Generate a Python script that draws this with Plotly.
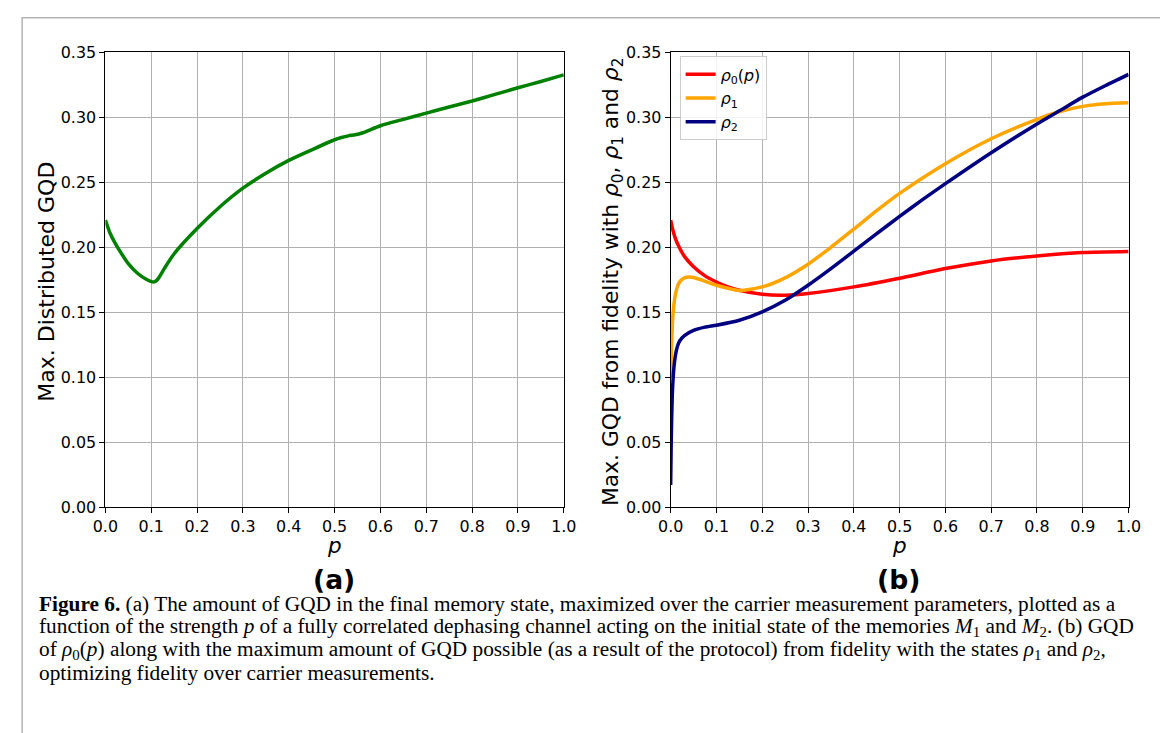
import plotly.graph_objects as go

# ---------------- data ----------------
p_a = [0, 0.01, 0.02, 0.03, 0.05, 0.07, 0.09, 0.105, 0.112, 0.12, 0.13, 0.15, 0.2, 0.25,
       0.3, 0.35, 0.4, 0.45, 0.5, 0.515, 0.53, 0.545, 0.56, 0.6, 0.65, 0.7, 0.75, 0.8,
       0.85, 0.9, 0.95, 1.0]
gqd_a = [0.221, 0.211, 0.204, 0.198, 0.1874, 0.1800, 0.1752, 0.1733, 0.1745, 0.1785, 0.1844,
         0.1950, 0.2144, 0.2312, 0.2455, 0.2570, 0.2669, 0.2750, 0.2828, 0.2845, 0.2858,
         0.2866, 0.2880, 0.2936, 0.2985, 0.3033, 0.3080, 0.3126, 0.3177, 0.3228, 0.3276, 0.3328]

p_r0 = [0, 0.005, 0.01, 0.02, 0.03, 0.05, 0.075, 0.1, 0.125, 0.15, 0.2, 0.25, 0.3, 0.4,
        0.5, 0.6, 0.7, 0.8, 0.9, 1.0]
rho0 = [0.221, 0.213, 0.207, 0.199, 0.193, 0.185, 0.178, 0.1733, 0.1695, 0.1669, 0.1638,
        0.1631, 0.1644, 0.1695, 0.1762, 0.1836, 0.1895, 0.1933, 0.1959, 0.1967]

p_r1 = [0, 0.002, 0.005, 0.01, 0.015, 0.02, 0.03, 0.04, 0.05, 0.07, 0.1, 0.15, 0.2, 0.25,
        0.3, 0.35, 0.4, 0.45, 0.5, 0.6, 0.7, 0.8, 0.85, 0.9, 0.95, 1.0]
rho1 = [0.100, 0.125, 0.148, 0.163, 0.170, 0.1735, 0.1765, 0.1772, 0.1768, 0.1745, 0.1708,
        0.1668, 0.1695, 0.1765, 0.1870, 0.2000, 0.2140, 0.2282, 0.2415, 0.2644, 0.2836,
        0.2985, 0.3045, 0.3085, 0.3105, 0.3113]

p_r2 = [0, 0.001, 0.002, 0.004, 0.007, 0.01, 0.015, 0.02, 0.03, 0.05, 0.075, 0.1, 0.15,
        0.2, 0.25, 0.3, 0.35, 0.4, 0.45, 0.5, 0.55, 0.6, 0.7, 0.8, 0.85, 0.9, 0.95, 1.0]
rho2 = [0.017, 0.045, 0.065, 0.090, 0.107, 0.116, 0.124, 0.128, 0.132, 0.136, 0.1385,
        0.140, 0.1438, 0.1503, 0.1592, 0.1708, 0.1836, 0.1970, 0.2105, 0.2238, 0.2367,
        0.2490, 0.2728, 0.2950, 0.3053, 0.3156, 0.3246, 0.3331]

x_ticks = [0.0, 0.1, 0.2, 0.3, 0.4, 0.5, 0.6, 0.7, 0.8, 0.9, 1.0]
y_ticks = [0.00, 0.05, 0.10, 0.15, 0.20, 0.25, 0.30, 0.35]

caption_lines = [
    "<b>Figure 6.</b> (a) The amount of GQD in the final memory state, maximized over the carrier measurement parameters, plotted as a",
    "function of the strength <i>p</i> of a fully correlated dephasing channel acting on the initial state of the memories <i>M</i><sub>1</sub> and <i>M</i><sub>2</sub>. (b) GQD",
    "of <i>ρ</i><sub>0</sub>(<i>p</i>) along with the maximum amount of GQD possible (as a result of the protocol) from fidelity with the states <i>ρ</i><sub>1</sub> and <i>ρ</i><sub>2</sub>,",
    "optimizing fidelity over carrier measurements.",
]

# ---------------- figure ----------------
W, H = 1168, 733
# observed mapping from figure pixels to photographed pixels
AX, BX = 0.979, 19.5
AY, BY = 0.975, 16.5
S = 1 / 0.977  # font compensation

fig = go.Figure()

LW = 3.5
fig.add_trace(go.Scatter(x=p_a, y=gqd_a, mode="lines",
                         line=dict(color="#008000", width=LW, shape="spline", smoothing=0.6),
                         showlegend=False, xaxis="x", yaxis="y"))
fig.add_trace(go.Scatter(x=p_r0, y=rho0, mode="lines", name="<i>ρ</i><sub>0</sub>(<i>p</i>)", legendgroup="a",
                         line=dict(color="#ff0000", width=LW, shape="spline", smoothing=0.6), xaxis="x2", yaxis="y2"))
fig.add_trace(go.Scatter(x=p_r1, y=rho1, mode="lines", name="<i>ρ</i><sub>1</sub>", legendgroup="b",
                         line=dict(color="#ffa500", width=LW, shape="spline", smoothing=0.6), xaxis="x2", yaxis="y2"))
fig.add_trace(go.Scatter(x=p_r2, y=rho2, mode="lines", name="<i>ρ</i><sub>2</sub>", legendgroup="c",
                         line=dict(color="#000080", width=LW, shape="spline", smoothing=0.6), xaxis="x2", yaxis="y2"))


def px_x(v):
    return ((v - BX) / AX) / W


def px_y(v):
    return 1 - ((v - BY) / AY) / H


def fs(v):
    return round(v * S, 1)


tickfont = dict(family="DejaVu Sans", size=fs(15.5), color="black")
ax_common = dict(range=[0, 1], tickvals=x_ticks, tickformat=".1f", showgrid=True, gridcolor="#b0b0b0",
                 gridwidth=1, showline=True, linecolor="black", linewidth=1.2, mirror=True,
                 ticks="outside", ticklen=5, tickcolor="black", tickfont=tickfont, zeroline=False)
ay_common = dict(range=[0, 0.35], tickvals=y_ticks, tickformat=".2f", showgrid=True, gridcolor="#b0b0b0",
                 gridwidth=1, showline=True, linecolor="black", linewidth=1.2, mirror=True,
                 ticks="outside", ticklen=5, tickcolor="black", tickfont=tickfont, zeroline=False)

ydom = [px_y(507), px_y(52)]
fig.update_layout(
    width=W, height=H, autosize=False,
    margin=dict(l=0, r=0, t=0, b=0),
    paper_bgcolor="white", plot_bgcolor="white",
    xaxis=dict(domain=[px_x(104), px_x(563)], anchor="y", **ax_common),
    yaxis=dict(domain=ydom, anchor="x", **ay_common),
    xaxis2=dict(domain=[px_x(670), px_x(1128.5)], anchor="y2", **ax_common),
    yaxis2=dict(domain=ydom, anchor="x2", **ay_common),
    legend=dict(x=px_x(679), y=px_y(56), xanchor="left", yanchor="top",
                bgcolor="rgba(255,255,255,0.85)", bordercolor="#cccccc", borderwidth=1,
                font=dict(family="DejaVu Sans", size=fs(15.5), color="black"),
                tracegroupgap=0, itemwidth=30),
    showlegend=True,
)

ann = []
ann.append(dict(text="Max. Distributed GQD", x=px_x(45), y=px_y(281), xref="paper", yref="paper",
                xanchor="center", yanchor="middle",
                textangle=-90, showarrow=False, font=dict(family="DejaVu Sans", size=fs(21.5), color="black")))
ann.append(dict(text="Max. GQD from fidelity with <i>ρ</i><sub>0</sub>, <i>ρ</i><sub>1</sub> and <i>ρ</i><sub>2</sub>",
                x=px_x(612), y=px_y(282), xref="paper", yref="paper",
                xanchor="center", yanchor="middle",
                textangle=-90, showarrow=False, font=dict(family="DejaVu Sans", size=fs(21.3), color="black")))
for cx in (333, 899):
    ann.append(dict(text="<i>p</i>", x=px_x(cx), y=px_y(546), xref="paper", yref="paper",
                    xanchor="center", yanchor="middle",
                    showarrow=False, font=dict(family="DejaVu Sans", size=fs(21), color="black")))
ann.append(dict(text="<b>(a)</b>", x=px_x(333), y=px_y(580), xref="paper", yref="paper",
                xanchor="center", yanchor="middle",
                showarrow=False, font=dict(family="DejaVu Sans", size=fs(26), color="black")))
ann.append(dict(text="<b>(b)</b>", x=px_x(898), y=px_y(580), xref="paper", yref="paper",
                xanchor="center", yanchor="middle",
                showarrow=False, font=dict(family="DejaVu Sans", size=fs(26), color="black")))
for i, line in enumerate(caption_lines):
    ann.append(dict(text=line, x=px_x(36), y=px_y(604 + 23 * i), xref="paper", yref="paper",
                    xanchor="left", yanchor="middle", showarrow=False, align="left",
                    font=dict(family="Liberation Serif", size=fs(20.8), color="black")))
fig.update_layout(annotations=ann)

# outer frame of the figure box
fig.add_shape(type="path", xref="paper", yref="paper",
              path="M 0.001,-0.02 L 0.001,0.999 L 0.999,0.999 L 0.999,-0.02",
              line=dict(color="#b4b4b4", width=1.5))

fig.write_html("out.html")
